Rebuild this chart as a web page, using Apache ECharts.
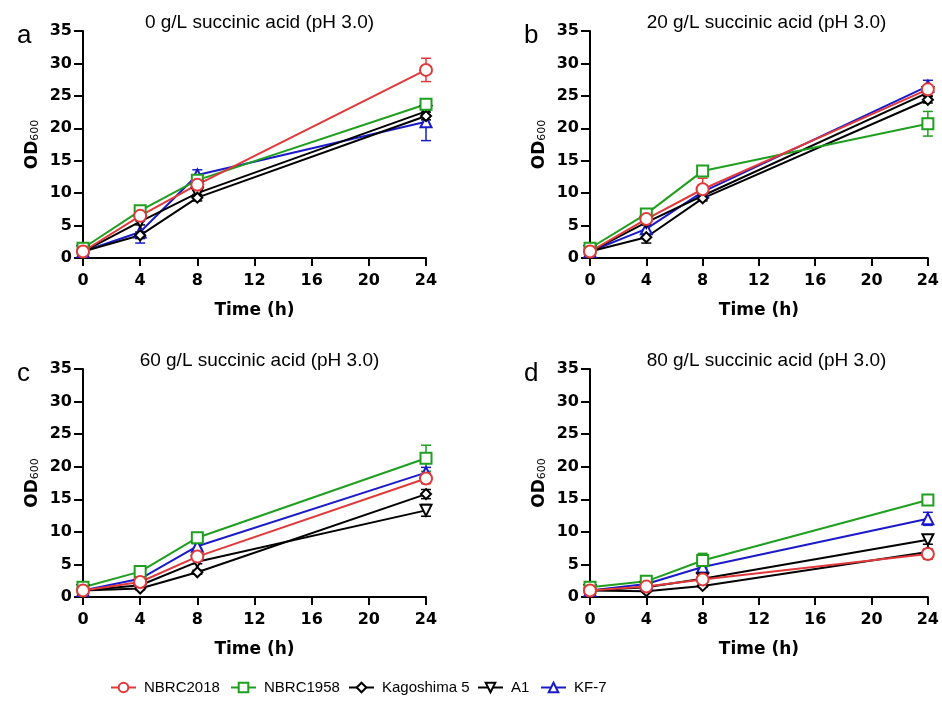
<!DOCTYPE html>
<html>
<head>
<meta charset="utf-8">
<script src="https://cdn.jsdelivr.net/npm/echarts@6/dist/echarts.min.js"></script>
<style>
  html, body { margin: 0; padding: 0; background: #fff; }
  #main { width: 942px; height: 702px; }
</style>
</head>
<body>
<div id="main"></div>
<script>
// time points (h) and strains
const timePoints = [0, 4, 8, 24];
const strains = ["NBRC2018", "NBRC1958", "Kagoshima 5", "A1", "KF-7"];
const panelTitles = [
  "0 g/L succinic acid (pH 3.0)",
  "20 g/L succinic acid (pH 3.0)",
  "60 g/L succinic acid (pH 3.0)",
  "80 g/L succinic acid (pH 3.0)"
];
const panelLetters = ["a", "b", "c", "d"];

// OD600 means, one row per strain (order as strains)
const od0gL = [
  [1.0, 6.5, 11.3, 29.0],
  [1.5, 7.3, 12.0, 23.7],
  [1.0, 3.5, 9.3, 21.9],
  [1.0, 5.6, 10.0, 22.6],
  [1.0, 4.0, 12.8, 21.0]
];
const sd0gL = [
  [0.2, 0.4, 0.5, 1.8],
  [0.2, 0.4, 0.5, 0.6],
  [0.1, 0.5, 0.5, 0.6],
  [0.1, 0.5, 0.5, 0.6],
  [0.1, 1.7, 0.8, 2.9]
];
const od20gL = [
  [1.0, 6.0, 10.6, 26.0],
  [1.5, 6.8, 13.4, 20.7],
  [1.0, 3.2, 9.2, 24.4],
  [1.0, 5.5, 9.6, 25.5],
  [1.0, 4.5, 10.2, 26.5]
];
const sd20gL = [
  [0.1, 0.4, 1.7, 0.6],
  [0.2, 0.4, 0.4, 1.9],
  [0.1, 0.9, 0.4, 0.5],
  [0.1, 0.4, 0.5, 0.5],
  [0.1, 0.6, 0.5, 0.9]
];
const od60gL = [
  [1.0, 2.3, 6.2, 18.2],
  [1.5, 3.9, 9.1, 21.3],
  [1.0, 1.3, 3.8, 15.8],
  [1.0, 1.8, 5.4, 13.3],
  [1.0, 2.8, 7.8, 19.1]
];
const sd60gL = [
  [0.1, 0.3, 0.4, 0.8],
  [0.2, 0.3, 0.4, 2.0],
  [0.1, 0.2, 0.3, 0.7],
  [0.1, 0.2, 0.3, 0.9],
  [0.1, 0.2, 0.4, 0.8]
];
const od80gL = [
  [1.0, 1.6, 2.7, 6.6],
  [1.5, 2.4, 5.6, 14.9],
  [1.0, 0.9, 1.7, 6.9],
  [1.0, 1.5, 2.8, 8.8],
  [1.0, 2.0, 4.6, 12.0]
];
const sd80gL = [
  [0.1, 0.2, 0.3, 0.8],
  [0.2, 0.2, 1.1, 0.8],
  [0.1, 0.1, 0.2, 0.4],
  [0.1, 0.2, 0.3, 0.7],
  [0.1, 0.2, 0.4, 1.0]
];

const panelMeans = [od0gL, od20gL, od60gL, od80gL];
const panelErrors = [sd0gL, sd20gL, sd60gL, sd80gL];

const colors = ["#e0393b", "#1f9e1f", "#000000", "#000000", "#1a1ac8"];
const symbols = ["emptyCircle", "emptyRect", "emptyDiamond", "emptyTriangle", "emptyTriangle"];
const symbolRotates = [0, 0, 0, 180, 0];
const symbolSizes = [12, 11, 10, 11, 11];
// draw order: blue, A1, Kagoshima, green, red on top
const drawOrder = [4, 3, 2, 1, 0];
// legend item left edges
const legendLefts = [110, 230, 348, 477, 540];

let myChart = echarts.init(document.getElementById("main"));

const grids = [
  { left: 83, top: 31, width: 343, height: 227 },
  { left: 590, top: 31, width: 343, height: 227 },
  { left: 83, top: 369, width: 343, height: 228 },
  { left: 590, top: 369, width: 343, height: 228 }
];

const tickFont = { fontFamily: "DejaVu Sans", fontWeight: "bold", fontSize: 16, color: "#000" };

let xAxes = [], yAxes = [], titles = [], series = [];

grids.forEach((g, i) => {
  xAxes.push({
    gridIndex: i,
    type: "value",
    min: 0,
    max: 24,
    interval: 4,
    name: "Time (h)",
    nameLocation: "middle",
    nameGap: 44,
    nameTextStyle: { fontFamily: "DejaVu Sans", fontWeight: "bold", fontSize: 17, color: "#000" },
    axisLine: { onZero: false, lineStyle: { color: "#000", width: 2 } },
    axisTick: { length: 8, lineStyle: { width: 2 } },
    axisLabel: Object.assign({ margin: 15 }, tickFont),
    splitLine: { show: false }
  });
  yAxes.push({
    gridIndex: i,
    type: "value",
    min: 0,
    max: 35,
    interval: 5,
    name: "{m|OD}{s|600}",
    nameLocation: "middle",
    nameGap: 42,
    nameTextStyle: {
      rich: {
        m: { fontFamily: "DejaVu Sans", fontWeight: "bold", fontSize: 17, color: "#000" },
        s: { fontFamily: "DejaVu Sans", fontSize: 11, color: "#000", verticalAlign: "bottom", padding: [6, 0, 0, 0] }
      }
    },
    axisLine: { show: true, lineStyle: { color: "#000", width: 2 } },
    axisTick: { show: true, length: 9, lineStyle: { width: 2 } },
    axisLabel: Object.assign({ margin: 11 }, tickFont),
    splitLine: { show: false }
  });
  titles.push({
    text: panelTitles[i],
    left: g.left + g.width / 2,
    top: g.top - 23,
    textAlign: "center",
    textStyle: { fontFamily: "Liberation Sans", fontWeight: "normal", fontSize: 19, color: "#000" }
  });
  titles.push({
    text: panelLetters[i],
    left: g.left - 71,
    top: g.top - 13,
    textStyle: { fontFamily: "Liberation Sans", fontWeight: "normal", fontSize: 26, color: "#000" }
  });

  drawOrder.forEach(k => {
    const means = panelMeans[i][k];
    const errs = panelErrors[i][k];
    series.push({
      name: strains[k] + " error",
      type: "custom",
      xAxisIndex: i,
      yAxisIndex: i,
      z: 1,
      silent: true,
      data: timePoints.map((t, j) => [t, means[j], errs[j]]),
      renderItem: function (params, api) {
        const x = api.value(0), y = api.value(1), e = api.value(2);
        const top = api.coord([x, y + e]);
        const bot = api.coord([x, y - e]);
        const w = 5;
        const st = { stroke: colors[k], lineWidth: 1.5 };
        return {
          type: "group",
          children: [
            { type: "line", shape: { x1: top[0], y1: top[1], x2: bot[0], y2: bot[1] }, style: st },
            { type: "line", shape: { x1: top[0] - w, y1: top[1], x2: top[0] + w, y2: top[1] }, style: st },
            { type: "line", shape: { x1: bot[0] - w, y1: bot[1], x2: bot[0] + w, y2: bot[1] }, style: st }
          ]
        };
      }
    });
  });
  drawOrder.forEach(k => {
    series.push({
      name: strains[k],
      type: "line",
      xAxisIndex: i,
      yAxisIndex: i,
      z: 2,
      data: timePoints.map((t, j) => [t, panelMeans[i][k][j]]),
      symbol: symbols[k],
      symbolSize: symbolSizes[k],
      symbolRotate: symbolRotates[k],
      color: colors[k],
      lineStyle: { color: colors[k], width: 2 },
      itemStyle: { color: colors[k], borderWidth: 2 },
      clip: false
    });
  });
});

// one legend per strain so each sits where it does in the figure
let legends = strains.map((s, k) => ({
  data: [s],
  left: legendLefts[k],
  top: 680,
  padding: 0,
  itemWidth: 25,
  itemHeight: 12,
  textStyle: { fontFamily: "Liberation Sans", fontSize: 15, color: "#000", padding: [0, 0, 0, 3] }
}));

let option = {
  backgroundColor: "#fff",
  animation: false,
  title: titles,
  legend: legends,
  grid: grids,
  xAxis: xAxes,
  yAxis: yAxes,
  series: series
};

myChart.setOption(option);
</script>
</body>
</html>
